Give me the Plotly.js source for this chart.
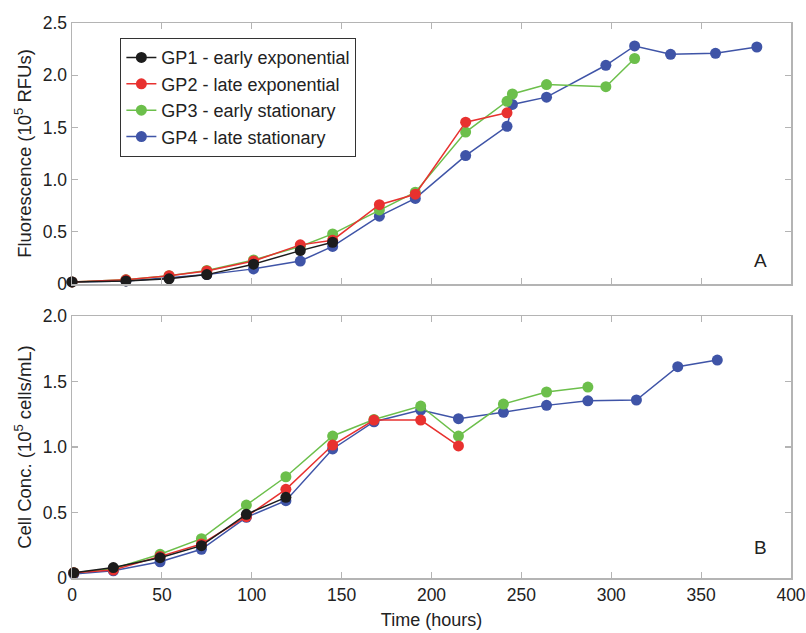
<!DOCTYPE html>
<html>
<head>
<meta charset="utf-8">
<script src="https://cdn.plot.ly/plotly-3.0.1.min.js"></script>
<style>html,body{margin:0;padding:0;background:#fff}#chart{width:806px;height:633px}</style>
</head>
<body>
<div id="chart"></div>
<script>
// ---- Data: Fluorescence (panel A) ----
const seriesNames = ["GP1 - early exponential", "GP2 - late exponential", "GP3 - early stationary", "GP4 - late stationary"];
const seriesColors = ["#1c1c1c", "#e8312f", "#6cbf4b", "#3f54a7"];

const fluoTimeGP1 = [0, 30, 54, 75, 101, 127, 145];
const fluoGP1 = [0.02, 0.03, 0.05, 0.09, 0.19, 0.32, 0.40];
const fluoTimeGP2 = [0, 30, 54, 75, 101, 127, 145, 171, 191, 219, 242];
const fluoGP2 = [0.02, 0.04, 0.08, 0.125, 0.22, 0.375, 0.42, 0.76, 0.86, 1.55, 1.64];
const fluoTimeGP3 = [0, 30, 54, 75, 101, 127, 145, 171, 191, 219, 242, 245, 264, 297, 313];
const fluoGP3 = [0.02, 0.04, 0.08, 0.13, 0.23, 0.36, 0.48, 0.71, 0.88, 1.455, 1.75, 1.82, 1.91, 1.89, 2.16];
const fluoTimeGP4 = [0, 30, 54, 75, 101, 127, 145, 171, 191, 219, 242, 245, 264, 297, 313, 333, 358, 381];
const fluoGP4 = [0.02, 0.03, 0.06, 0.09, 0.145, 0.22, 0.36, 0.65, 0.82, 1.23, 1.51, 1.72, 1.79, 2.095, 2.28, 2.20, 2.21, 2.27];

// ---- Data: Cell concentration (panel B) ----
const cellTimeGP1 = [1, 23, 49, 72, 97, 119];
const cellGP1 = [0.04, 0.08, 0.155, 0.247, 0.486, 0.616];
const cellTimeGP2 = [1, 23, 49, 72, 97, 119, 145, 168, 194, 215];
const cellGP2 = [0.04, 0.061, 0.165, 0.26, 0.468, 0.677, 1.015, 1.206, 1.206, 1.008];
const cellTimeGP3 = [1, 23, 49, 72, 97, 119, 145, 168, 194, 215, 240, 264, 287];
const cellGP3 = [0.04, 0.07, 0.181, 0.30, 0.557, 0.773, 1.084, 1.21, 1.313, 1.084, 1.328, 1.42, 1.458];
const cellTimeGP4 = [1, 23, 49, 72, 97, 119, 145, 168, 194, 215, 240, 264, 287, 314, 337, 359];
const cellGP4 = [0.03, 0.055, 0.124, 0.219, 0.463, 0.59, 0.985, 1.193, 1.282, 1.216, 1.265, 1.318, 1.353, 1.359, 1.613, 1.664];

// ---- Tick labels ----
const xTickVals = [0, 50, 100, 150, 200, 250, 300, 350, 400];
const fluoTickVals = [0, 0.5, 1.0, 1.5, 2.0, 2.5];
const fluoTickText = ["0", "0.5", "1.0", "1.5", "2.0", "2.5"];
const cellTickVals = [0, 0.5, 1.0, 1.5, 2.0];
const cellTickText = ["0", "0.5", "1.0", "1.5", "2.0"];

const fluoX = [fluoTimeGP1, fluoTimeGP2, fluoTimeGP3, fluoTimeGP4];
const fluoY = [fluoGP1, fluoGP2, fluoGP3, fluoGP4];
const cellX = [cellTimeGP1, cellTimeGP2, cellTimeGP3, cellTimeGP4];
const cellY = [cellGP1, cellGP2, cellGP3, cellGP4];

const FONT = 'Liberation Sans, Arial, sans-serif';
const traces = [];
// draw order: GP4 first (bottom), GP1 last (top)
for (let i = 3; i >= 0; i--) {
  traces.push({
    x: fluoX[i], y: fluoY[i], xaxis: 'x', yaxis: 'y',
    type: 'scatter', mode: 'lines+markers', name: seriesNames[i],
    legendrank: i + 1,
    line: {color: seriesColors[i], width: 1.5},
    marker: {color: seriesColors[i], size: 11},
    cliponaxis: false
  });
}
for (let i = 3; i >= 0; i--) {
  traces.push({
    x: cellX[i], y: cellY[i], xaxis: 'x2', yaxis: 'y2',
    type: 'scatter', mode: 'lines+markers', name: seriesNames[i],
    showlegend: false,
    line: {color: seriesColors[i], width: 1.5},
    marker: {color: seriesColors[i], size: 11},
    cliponaxis: false
  });
}

const axisCommon = {
  showline: true, linecolor: '#b4b4b4', linewidth: 1.5, mirror: 'ticks',
  ticks: 'inside', ticklen: 6, tickcolor: '#b4b4b4', tickwidth: 1.2,
  showgrid: false, zeroline: false,
  tickfont: {family: FONT, size: 17.5, color: '#222'}
};

const layout = {
  width: 806, height: 633,
  margin: {l: 72, r: 15, t: 23, b: 55},
  paper_bgcolor: '#fff', plot_bgcolor: '#fff',
  font: {family: FONT, color: '#222'},
  showlegend: true,
  legend: {
    x: 0.067, y: 0.973, xanchor: 'left', yanchor: 'top',
    bordercolor: '#333', borderwidth: 1.2, bgcolor: '#fff',
    font: {family: FONT, size: 18, color: '#222'},
    tracegroupgap: 0, itemwidth: 30
  },
  xaxis: Object.assign({}, axisCommon, {
    domain: [0, 1], range: [0, 400], anchor: 'y',
    tickvals: xTickVals, showticklabels: false
  }),
  yaxis: Object.assign({}, axisCommon, {
    domain: [0.5297, 1], range: [0, 2.5], anchor: 'x',
    tickvals: fluoTickVals, ticktext: fluoTickText,
    title: {text: 'Fluorescence (10<sup>5</sup> RFUs)', standoff: 6,
            font: {family: FONT, size: 18.5, color: '#222'}}
  }),
  xaxis2: Object.assign({}, axisCommon, {
    domain: [0, 1], range: [0, 400], anchor: 'y2',
    tickvals: xTickVals,
    title: {text: 'Time (hours)', standoff: 10,
            font: {family: FONT, size: 18, color: '#222'}}
  }),
  yaxis2: Object.assign({}, axisCommon, {
    domain: [0, 0.472], range: [0, 2.0], anchor: 'x2',
    tickvals: cellTickVals, ticktext: cellTickText,
    title: {text: 'Cell Conc. (10<sup>5</sup> cells/mL)', standoff: 6,
            font: {family: FONT, size: 18.5, color: '#222'}}
  }),
  annotations: [
    {text: 'A', xref: 'x', yref: 'y', x: 383, y: 0.23, showarrow: false,
     font: {family: FONT, size: 19, color: '#222'}},
    {text: 'B', xref: 'x2', yref: 'y2', x: 383, y: 0.23, showarrow: false,
     font: {family: FONT, size: 19, color: '#222'}}
  ]
};

Plotly.newPlot('chart', traces, layout, {displayModeBar: false, staticPlot: true});
</script>
</body>
</html>
